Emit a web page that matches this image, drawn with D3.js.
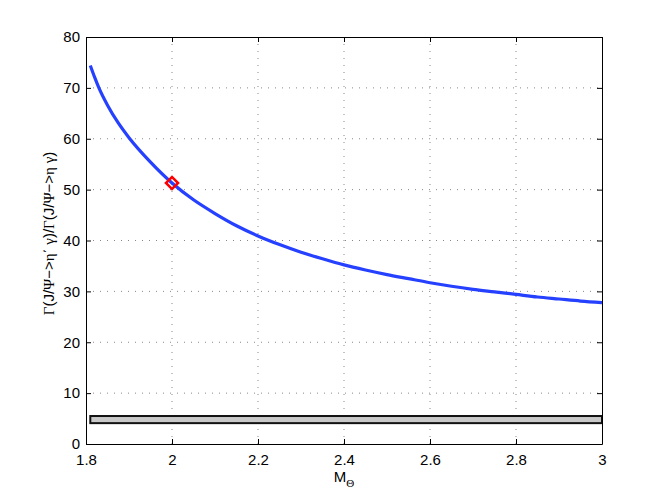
<!DOCTYPE html>
<html>
<head>
<meta charset="utf-8">
<script src="https://cdn.jsdelivr.net/npm/d3@7"></script>
<style>
  body { margin: 0; background: #fff; }
  text { font-family: "Liberation Sans", Arial, Helvetica, sans-serif; }
</style>
</head>
<body>
<div id="chart"></div>
<script>
// values
var massValues  = [1.81, 1.82, 1.83, 1.85, 1.875, 1.9, 1.95, 2.0, 2.05, 2.1, 2.15, 2.2, 2.25, 2.3, 2.35, 2.4, 2.45, 2.5, 2.55, 2.6, 2.65, 2.7, 2.75, 2.8, 2.85, 2.9, 2.95, 3.0];
var ratioValues = [74.4, 72.1, 70.0, 66.6, 63.1, 60.2, 55.4, 51.3, 48.0, 45.3, 42.9, 40.9, 39.2, 37.7, 36.4, 35.2, 34.2, 33.3, 32.5, 31.7, 31.0, 30.4, 29.9, 29.4, 28.9, 28.5, 28.1, 27.8];
var markerPoint = [2.0, 51.3];
var bandX = [1.81, 3.0];      // grey experimental band
var bandY = [4.1, 5.5];
var xTicks = [1.8, 2, 2.2, 2.4, 2.6, 2.8, 3];
var yTicks = [0, 10, 20, 30, 40, 50, 60, 70, 80];

var margin = {top: 37, right: 62, bottom: 56, left: 86},
    width = 664 - margin.left - margin.right,
    height = 500 - margin.top - margin.bottom;

var svg = d3.select("#chart")
  .append("svg")
    .attr("width", 664)
    .attr("height", 500)
  .append("g")
    .attr("transform", "translate(" + margin.left + "," + margin.top + ")");

var x = d3.scaleLinear().domain([1.8, 3]).range([0, width]);
var y = d3.scaleLinear().domain([0, 80]).range([height, 0]);

// dotted grid
svg.append("g")
  .selectAll("line")
  .data(xTicks.slice(1, -1))
  .enter().append("line")
    .attr("x1", d => x(d)).attr("x2", d => x(d))
    .attr("y1", 0).attr("y2", height)
    .attr("stroke", "#888").attr("stroke-dasharray", "1,6");
svg.append("g")
  .selectAll("line")
  .data(yTicks.slice(1, -1))
  .enter().append("line")
    .attr("x1", 0).attr("x2", width)
    .attr("y1", d => y(d)).attr("y2", d => y(d))
    .attr("stroke", "#888").attr("stroke-dasharray", "1,6");

// grey band
svg.append("rect")
  .attr("x", x(bandX[0]))
  .attr("y", y(bandY[1]))
  .attr("width", x(bandX[1]) - x(bandX[0]))
  .attr("height", y(bandY[0]) - y(bandY[1]))
  .attr("fill", "#c8c8c8")
  .attr("stroke", "#111")
  .attr("stroke-width", 2);

// curve
var line = d3.line()
  .x((d, i) => x(massValues[i]))
  .y(d => y(d))
  .curve(d3.curveMonotoneX);

svg.append("path")
  .datum(ratioValues)
  .attr("fill", "none")
  .attr("stroke", "#2540ff")
  .attr("stroke-width", 3.2)
  .attr("d", line);

// red diamond
svg.append("path")
  .attr("d", d3.symbol().type(d3.symbolSquare).size(72))
  .attr("transform", "translate(" + x(markerPoint[0]) + "," + y(markerPoint[1]) + ") rotate(45)")
  .attr("fill", "none")
  .attr("stroke", "#ff0000")
  .attr("stroke-width", 2.6);

// axes with inward ticks on all four sides
var tickLen = 5;
svg.append("g")
  .attr("transform", "translate(0," + height + ")")
  .call(d3.axisBottom(x).tickValues(xTicks).tickFormat(d3.format("")).tickSizeInner(-tickLen).tickSizeOuter(0).tickPadding(10));
svg.append("g")
  .call(d3.axisTop(x).tickValues(xTicks).tickFormat("").tickSizeInner(-tickLen).tickSizeOuter(0));
svg.append("g")
  .call(d3.axisLeft(y).tickValues(yTicks).tickSizeInner(-tickLen).tickSizeOuter(0).tickPadding(6));
svg.append("g")
  .attr("transform", "translate(" + width + ",0)")
  .call(d3.axisRight(y).tickValues(yTicks).tickFormat("").tickSizeInner(-tickLen).tickSizeOuter(0));

svg.selectAll(".tick text")
  .style("font-size", "15px")
  .style("font-family", "'Liberation Sans', Arial, sans-serif")
  .attr("fill", "#000");
svg.selectAll(".domain").attr("stroke", "#000");
svg.selectAll(".tick line").attr("stroke", "#000");

// text label for the y axis
var yl = svg.append("text")
  .attr("transform", "translate(" + (54 - margin.left) + "," + (height / 2 - 7) + ") rotate(-90)")
  .style("text-anchor", "middle")
  .style("font-size", "15px");
yl.append("tspan").style("font-family", "'Liberation Serif', serif").text("Γ");
yl.append("tspan").text("(J/");
yl.append("tspan").style("font-family", "'Liberation Serif', serif").text("Ψ");
yl.append("tspan").text("−>");
yl.append("tspan").style("font-family", "'Liberation Serif', serif").text("η΄ γ");
yl.append("tspan").text(")/");
yl.append("tspan").style("font-family", "'Liberation Serif', serif").text("Γ");
yl.append("tspan").text("(J/");
yl.append("tspan").style("font-family", "'Liberation Serif', serif").text("Ψ");
yl.append("tspan").text("−>");
yl.append("tspan").style("font-family", "'Liberation Serif', serif").text("η γ");
yl.append("tspan").text(")");

// text label for the x axis
var xl = svg.append("text")
  .attr("x", width / 2)
  .attr("y", 482 - margin.top)
  .style("text-anchor", "middle")
  .style("font-size", "15px");
xl.append("tspan").text("M");
xl.append("tspan").attr("dy", 5).style("font-size", "11px").style("font-family", "'Liberation Serif', serif").text("Θ");
</script>
</body>
</html>
